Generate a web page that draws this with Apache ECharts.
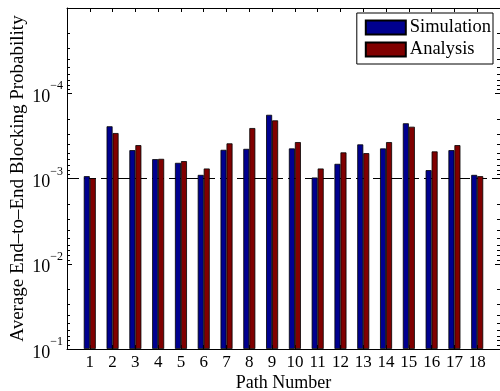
<!DOCTYPE html>
<html>
<head>
<meta charset="utf-8">
<script src="https://cdn.jsdelivr.net/npm/echarts@6/dist/echarts.min.js"></script>
<style>
  html, body { margin: 0; padding: 0; background: #fff; }
  #chart { width: 500px; height: 391px; }
</style>
</head>
<body>
<div id="chart"></div>
<script>
const paths = [1, 2, 3, 4, 5, 6, 7, 8, 9, 10, 11, 12, 13, 14, 15, 16, 17, 18];
const simulation = [9.4e-4, 2.44e-4, 4.65e-4, 5.93e-4, 6.55e-4, 9.07e-4, 4.61e-4, 4.49e-4, 1.79e-4,
    4.44e-4, 9.73e-4, 6.73e-4, 3.98e-4, 4.44e-4, 2.25e-4, 7.98e-4, 4.65e-4, 9.07e-4];
const analysis = [9.9e-4, 2.93e-4, 4.06e-4, 5.88e-4, 6.25e-4, 7.63e-4, 3.87e-4, 2.56e-4, 2.08e-4,
    3.74e-4, 7.63e-4, 4.94e-4, 5.04e-4, 3.74e-4, 2.47e-4, 4.81e-4, 4.06e-4, 9.4e-4];
const majorTicks = [1e-5, 1e-4, 1e-3, 1e-2, 1e-1];
const minorTicks = [];
for (let e = -5; e < -1; e++) {
    for (let m = 2; m <= 9; m++) minorTicks.push(m * Math.pow(10, e));
}
const threshold = 1e-3;
const xMin = 0;
const xMax = 19;

const font = 'Liberation Serif';
const blue = '#00008f';
const red = '#800000';

function expLabel(v) {
    const e = Math.round(Math.log10(v));
    if (e === -5) return '';
    return '{b|10}{s|\u2212' + Math.abs(e) + '}';
}

function yAxisFor(position, ticks, len, labels) {
    return {
        type: 'log',
        logBase: 10,
        inverse: true,
        min: 1e-5,
        max: 1e-1,
        startValue: 1e-1,
        position: position,
        name: labels ? 'Average End\u2013to\u2013End Blocking Probability' : '',
        nameLocation: 'middle',
        nameGap: 39,
        nameMoveOverlap: false,
        nameTextStyle: { fontFamily: font, fontSize: 19, color: '#000' },
        axisLine: { show: labels || position === 'right', onZero: false, lineStyle: { color: '#000', width: 1 } },
        axisTick: { show: true, inside: true, length: len, customValues: ticks, lineStyle: { color: '#000' } },
        axisLabel: {
            show: labels,
            customValues: labels ? majorTicks : undefined,
            margin: 4,
            formatter: expLabel,
            rich: {
                b: { fontFamily: font, fontSize: 18, color: '#000', padding: [8, 0, 0, 0] },
                s: { fontFamily: font, fontSize: 12, color: '#000', verticalAlign: 'top' }
            }
        },
        splitLine: { show: false },
        minorTick: { show: false }
    };
}

function xAxisFor(position, labels) {
    return {
        type: 'value',
        min: xMin,
        max: xMax,
        interval: 1,
        position: position,
        name: labels ? 'Path Number' : '',
        nameLocation: 'middle',
        nameGap: 25,
        nameMoveOverlap: false,
        nameTextStyle: { fontFamily: font, fontSize: 18, color: '#000' },
        axisLine: { show: true, onZero: false, lineStyle: { color: '#000', width: 1 } },
        axisTick: { show: true, inside: true, length: 4, lineStyle: { color: '#000' } },
        axisLabel: {
            show: labels,
            margin: 5,
            fontFamily: font,
            fontSize: 17,
            color: '#000',
            formatter: v => (v >= 1 && v <= 18 ? String(v) : '')
        },
        splitLine: { show: false }
    };
}

const chart = echarts.init(document.getElementById('chart'), null, { renderer: 'canvas' });
chart.setOption({
    animation: false,
    backgroundColor: '#fff',
    textStyle: { fontFamily: font },
    grid: { left: 67, right: 0, top: 8, bottom: 42, containLabel: false, outerBoundsMode: 'none' },
    legend: {
        orient: 'vertical',
        right: 7,
        top: 13,
        padding: [5, 2, 5, 8],
        itemGap: 3,
        itemWidth: 40,
        itemHeight: 14,
        backgroundColor: '#fff',
        borderColor: '#000',
        borderWidth: 1,
        borderRadius: 0,
        icon: 'rect',
        textStyle: { fontFamily: font, fontSize: 18.5, color: '#000', padding: [0, 0, 0, -1] },
        data: ['Simulation', 'Analysis']
    },
    xAxis: [xAxisFor('bottom', true), xAxisFor('top', false)],
    yAxis: [
        yAxisFor('left', majorTicks, 5, true),
        yAxisFor('left', minorTicks, 3, false),
        yAxisFor('right', majorTicks, 5, false),
        yAxisFor('right', minorTicks, 3, false)
    ],
    series: [
        {
            name: 'threshold',
            type: 'line',
            z: 1,
            silent: true,
            symbol: 'none',
            lineStyle: { color: '#000', width: 1, type: [12, 5] },
            data: [[xMin, threshold], [xMax, threshold]]
        },
        {
            name: 'Simulation',
            type: 'bar',
            z: 3,
            barWidth: 6,
            barGap: '0%',
            itemStyle: { color: blue, borderColor: '#000', borderWidth: 0.8 },
            data: paths.map((p, i) => [p, simulation[i]])
        },
        {
            name: 'Analysis',
            type: 'bar',
            z: 3,
            barWidth: 6,
            barGap: '0%',
            itemStyle: { color: red, borderColor: '#000', borderWidth: 0.8 },
            data: paths.map((p, i) => [p, analysis[i]])
        }
    ]
});
</script>
</body>
</html>
